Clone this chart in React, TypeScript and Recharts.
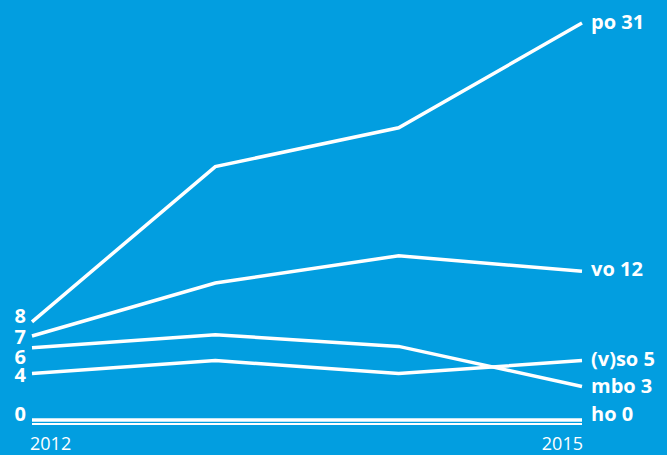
import React from 'react';
import { LineChart, Line, XAxis, YAxis } from 'recharts';

const years = ['2012', '2013', '2014', '2015'];
const po = [7.9, 19.9, 22.9, 31];
const vo = [6.8, 10.9, 13.0, 11.8];
const mbo = [5.9, 6.9, 6.0, 2.9];
const vso = [3.9, 4.9, 3.9, 4.9];
const ho = [0.3, 0.3, 0.3, 0.3];

const startLabels = { po: '8', vo: '7', mbo: '6', vso: '4', ho: '0' };
const endLabels = { po: 'po 31', vo: 'vo 12', mbo: 'mbo 3', vso: '(v)so 5', ho: 'ho 0' };

const data = years.map((y, i) => ({ year: y, po: po[i], vo: vo[i], mbo: mbo[i], vso: vso[i], ho: ho[i] }));

const BG = '#029ee0';
const FONT = '"Open Sans", "Noto Sans", sans-serif';

const startDy: Record<string, number> = { po: 1.5, vo: 7.7, mbo: 16.7, vso: 8.8, ho: 0.7 };
const endDy: Record<string, number> = { po: 6, vo: 5, mbo: 7, vso: 5.3, ho: 0.5 };

const makeLabel = (key: string) => (props: any) => {
  const { x, y, index } = props;
  if (index === 0) {
    return (
      <text x={x - 6} y={y + startDy[key]} textAnchor="end" fill="#fff" fontFamily={FONT} fontWeight={700} fontSize={20}>
        {startLabels[key as keyof typeof startLabels]}
      </text>
    );
  }
  if (index === years.length - 1) {
    return (
      <text x={x + 9} y={y + endDy[key]} textAnchor="start" fill="#fff" fontFamily={FONT} fontWeight={700} fontSize={20}>
        {endLabels[key as keyof typeof endLabels]}
      </text>
    );
  }
  return null;
};

const Tick = (props: any) => {
  const { x, y, payload } = props;
  const v = payload.value;
  if (v === years[0]) {
    return <text x={x - 2} y={y + 18} textAnchor="start" fill="#fff" fontFamily={FONT} fontSize={18}>{v}</text>;
  }
  if (v === years[years.length - 1]) {
    return <text x={x + 1} y={y + 18} textAnchor="end" fill="#fff" fontFamily={FONT} fontSize={18}>{v}</text>;
  }
  return null;
};

const series = ['po', 'vo', 'mbo', 'vso', 'ho'];

export default function App() {
  return (
    <div style={{ position: 'absolute', left: 0, top: 0, width: 667, height: 455, background: BG }}>
      <LineChart width={667} height={455} data={data} margin={{ top: 23, right: 85, bottom: 0, left: 32 }}>
        <XAxis
          dataKey="year"
          height={31}
          axisLine={{ stroke: '#fff', strokeWidth: 2 }}
          tickLine={false}
          tick={<Tick />}
          interval={0}
        />
        <YAxis hide domain={[0, 31]} type="number" />
        {series.map((k) => (
          <Line
            key={k}
            dataKey={k}
            stroke="#fff"
            strokeWidth={3.5}
            dot={false}
            activeDot={false}
            isAnimationActive={false}
            label={makeLabel(k)}
          />
        ))}
      </LineChart>
    </div>
  );
}
